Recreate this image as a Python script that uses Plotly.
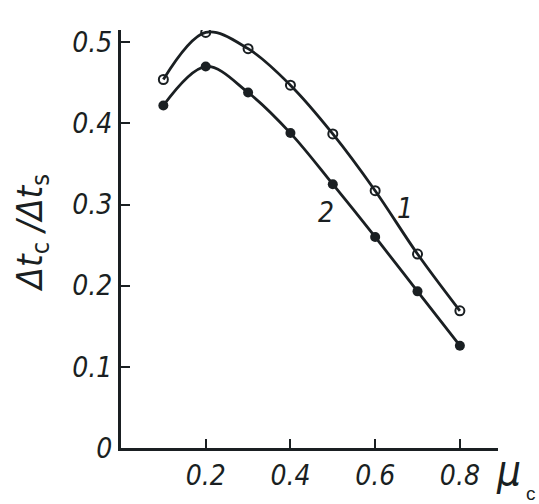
import plotly.graph_objects as go

mu = [0.1, 0.2, 0.3, 0.4, 0.5, 0.6, 0.7, 0.8]
curve1 = [0.454, 0.512, 0.492, 0.447, 0.387, 0.317, 0.239, 0.169]
curve2 = [0.422, 0.470, 0.438, 0.388, 0.325, 0.260, 0.193, 0.126]
xticks = [0.2, 0.4, 0.6, 0.8]
yticks = [0, 0.1, 0.2, 0.3, 0.4, 0.5]
xtick_text = ["0.2", "0.4", "0.6", "0.8"]
ytick_text = ["0", "0.1", "0.2", "0.3", "0.4", "0.5"]
curve_labels = ["1", "2"]

ink = "#1a1f22"
fam = "DejaVu Sans Condensed, Liberation Sans"
tickfont = dict(family=fam, size=28, color=ink, style="italic")

fig = go.Figure()
fig.add_trace(go.Scatter(
    x=mu, y=curve1, mode="lines+markers",
    line=dict(color=ink, width=2.8, shape="spline", smoothing=1.0),
    marker=dict(symbol="circle-open", size=9, color=ink, line=dict(width=2)),
    showlegend=False))
fig.add_trace(go.Scatter(
    x=mu, y=curve2, mode="lines+markers",
    line=dict(color=ink, width=2.8, shape="spline", smoothing=1.0),
    marker=dict(symbol="circle", size=10, color=ink),
    showlegend=False))

fig.add_annotation(x=0.67, y=0.295, text="<i>" + curve_labels[0] + "</i>", showarrow=False,
                   font=dict(family=fam, size=28, color=ink))
fig.add_annotation(x=0.485, y=0.29, text="<i>" + curve_labels[1] + "</i>", showarrow=False,
                   font=dict(family=fam, size=28, color=ink))

fig.add_annotation(xref="paper", yref="paper", x=-0.235, y=0.515, xanchor="center", yanchor="middle",
                   text="<i>Δt</i><sub>c</sub> <i>/Δt</i><sub>s</sub>", textangle=-90,
                   showarrow=False,
                   font=dict(family=fam, size=36, color=ink))
fig.add_annotation(xref="paper", yref="paper", x=0.99, y=0.01, xanchor="left", yanchor="top",
                   text="μ", showarrow=False,
                   font=dict(family=fam, size=42, color=ink, style="italic"))
fig.add_annotation(xref="paper", yref="paper", x=1.07, y=-0.08, xanchor="left", yanchor="top",
                   text="c", showarrow=False,
                   font=dict(family="Liberation Sans", size=19, color=ink))

fig.update_layout(
    width=539, height=504,
    margin=dict(l=121, r=41, t=30, b=54),
    paper_bgcolor="white", plot_bgcolor="white",
    xaxis=dict(range=[0, 0.89], tickvals=xticks, ticktext=xtick_text,
               showline=True, linecolor=ink, linewidth=3, showgrid=False, zeroline=False,
               ticks="inside", ticklen=9, tickwidth=2, tickcolor=ink, tickfont=tickfont),
    yaxis=dict(range=[0, 0.515], tickvals=yticks, ticktext=ytick_text,
               showline=True, linecolor=ink, linewidth=3, showgrid=False, zeroline=False,
               ticks="inside", ticklen=9, tickwidth=2, tickcolor=ink, tickfont=tickfont),
)

fig.write_html("out.html")
